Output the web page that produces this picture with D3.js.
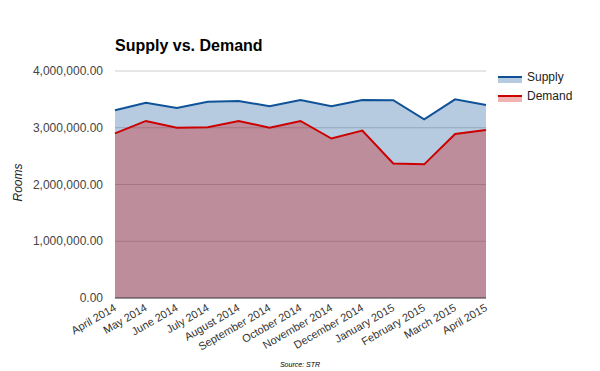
<!DOCTYPE html>
<html>
<head>
<meta charset="utf-8">
<script src="https://cdn.jsdelivr.net/npm/d3@7/dist/d3.min.js"></script>
<style>
  body { margin: 0; background: #fff; }
  text { font-family: "Liberation Sans", Arial, sans-serif; }
</style>
</head>
<body>
<script>
// chart data
var months = ["April 2014", "May 2014", "June 2014", "July 2014", "August 2014",
  "September 2014", "October 2014", "November 2014", "December 2014",
  "January 2015", "February 2015", "March 2015", "April 2015"];
var supply = [3310000, 3440000, 3350000, 3460000, 3470000, 3380000, 3490000,
  3380000, 3490000, 3485000, 3150000, 3500000, 3400000];
var demand = [2900000, 3120000, 3000000, 3010000, 3120000, 3000000, 3120000,
  2810000, 2950000, 2370000, 2355000, 2890000, 2960000];
var yTicks = [0, 1000000, 2000000, 3000000, 4000000];

var margin = {top: 71, right: 114, bottom: 73, left: 115},
  width = 600 - margin.left - margin.right,
  height = 371 - margin.top - margin.bottom;

var blue = "rgb(15,82,152)", red = "rgb(204,0,0)";

var svg = d3.select("body").append("svg")
  .attr("width", 600)
  .attr("height", 371);

var g = svg.append("g")
  .attr("transform", `translate(${margin.left},${margin.top})`);

var x = d3.scalePoint().domain(months).range([0, width]);
var y = d3.scaleLinear().domain([0, 4000000]).range([height, 0]);

// gridlines
g.append("g")
  .selectAll("line")
  .data(yTicks.slice(1))
  .enter().append("line")
  .attr("x1", 0).attr("x2", width)
  .attr("y1", d => y(d)).attr("y2", d => y(d))
  .style("stroke", "#ccc");

var fmt = d3.format(",.2f");
g.append("g")
  .selectAll("text")
  .data(yTicks)
  .enter().append("text")
  .attr("x", -12)
  .attr("y", d => y(d) + 4)
  .attr("text-anchor", "end")
  .style("font-size", "12px")
  .style("fill", "#444")
  .text(d => fmt(d));

// areas + lines
function drawSeries(vals, color) {
  var area = d3.area()
    .x((d, i) => x(months[i]))
    .y0(height)
    .y1(d => y(d));
  var line = d3.line()
    .x((d, i) => x(months[i]))
    .y(d => y(d));
  g.append("path").datum(vals)
    .attr("d", area)
    .style("fill", color)
    .style("fill-opacity", 0.3);
  return line;
}
var supplyLine = drawSeries(supply, blue);
var demandLine = drawSeries(demand, red);
g.append("path").datum(supply).attr("d", supplyLine)
  .style("fill", "none").style("stroke", blue).style("stroke-width", 2);
g.append("path").datum(demand).attr("d", demandLine)
  .style("fill", "none").style("stroke", red).style("stroke-width", 2);

// baseline
g.append("line")
  .attr("x1", 0).attr("x2", width)
  .attr("y1", height).attr("y2", height)
  .style("stroke", "#333");

// x labels, rotated
g.append("g")
  .selectAll("text")
  .data(months)
  .enter().append("text")
  .attr("transform", d => `translate(${x(d) + 2},${height + 12}) rotate(-30)`)
  .attr("text-anchor", "end")
  .style("font-size", "11px")
  .style("fill", "#333")
  .text(d => d);

// title
svg.append("text")
  .attr("x", 115).attr("y", 51)
  .style("font-size", "16px")
  .style("font-weight", "bold")
  .style("fill", "#000")
  .text("Supply vs. Demand");

// y axis title
svg.append("text")
  .attr("transform", `translate(22,${margin.top + height / 2 - 2}) rotate(-90)`)
  .attr("text-anchor", "middle")
  .style("font-size", "12px")
  .style("font-style", "italic")
  .style("fill", "#222")
  .text("Rooms");

// legend
var legend = svg.append("g").attr("transform", "translate(498,71)");
[["Supply", blue], ["Demand", red]].forEach(function (s, i) {
  var lg = legend.append("g").attr("transform", `translate(0,${i * 19})`);
  lg.append("rect").attr("x", 0).attr("y", 6).attr("width", 24).attr("height", 6)
    .style("fill", s[1]).style("fill-opacity", 0.3);
  lg.append("line").attr("x1", 0).attr("x2", 24).attr("y1", 6).attr("y2", 6)
    .style("stroke", s[1]).style("stroke-width", 2);
  lg.append("text").attr("x", 29).attr("y", 10)
    .style("font-size", "12px").style("fill", "#222")
    .text(s[0]);
});

// source note
svg.append("text")
  .attr("x", 300).attr("y", 367)
  .attr("text-anchor", "middle")
  .style("font-size", "7px")
  .style("font-style", "italic")
  .style("fill", "#000")
  .text("Source: STR");
</script>
</body>
</html>
